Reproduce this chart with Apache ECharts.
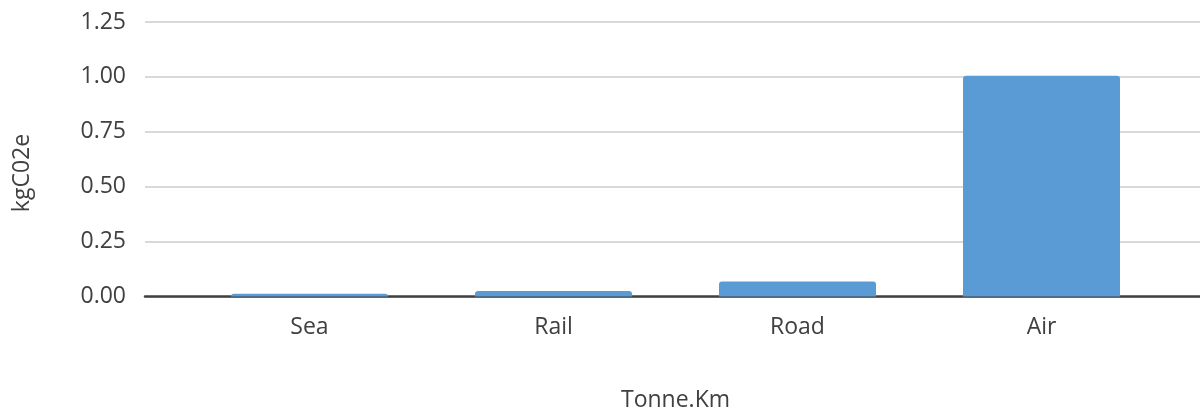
<!DOCTYPE html>
<html>
<head>
<meta charset="utf-8">
<script src="https://cdn.jsdelivr.net/npm/echarts@6/dist/echarts.min.js"></script>
<style>
  html, body { margin: 0; padding: 0; background: #fff; }
  #chart { width: 1200px; height: 411px; }
</style>
</head>
<body>
<div id="chart"></div>
<script>
const categories = ['Sea', 'Rail', 'Road', 'Air']
const emissions = [0.013, 0.025, 0.068, 1.005]
const yMin = 0
const yMax = 1.25
const yStep = 0.25

const chart = echarts.init(document.getElementById('chart'))
const font = 'Open Sans'
const fs = 23

const option = {
  backgroundColor: '#fff',
  animation: false,
  textStyle: { fontFamily: font },
  grid: [
    // full width frame: gridlines + axis line
    { left: 145, right: 0, top: 22, bottom: 114.5, outerBoundsMode: 'none', containLabel: false },
    // category band for the bars
    { left: 187.5, right: 36.5, top: 22, bottom: 114.5, outerBoundsMode: 'none', containLabel: false }
  ],
  xAxis: [
    {
      gridIndex: 0,
      type: 'value',
      min: 0,
      max: 1,
      axisLine: { show: true, onZero: false, lineStyle: { color: '#404040', width: 2.5 } },
      axisTick: { show: false },
      axisLabel: { show: false },
      splitLine: { show: false }
    },
    {
      gridIndex: 1,
      type: 'category',
      data: categories,
      axisLine: { show: false },
      axisTick: { show: false },
      axisLabel: { color: '#404040', fontSize: fs, margin: 19, fontFamily: font },
      name: 'Tonne.Km',
      nameLocation: 'middle',
      nameGap: 92,
      nameTextStyle: { color: '#404040', fontSize: fs, fontFamily: font }
    }
  ],
  yAxis: [
    {
      gridIndex: 0,
      type: 'value',
      min: yMin,
      max: yMax,
      interval: yStep,
      axisLine: { show: false },
      axisTick: { show: false },
      axisLabel: {
        color: '#404040',
        fontSize: fs,
        margin: 19,
        fontFamily: font,
        formatter: v => v.toFixed(2)
      },
      splitLine: { lineStyle: { color: '#d9d9d9', width: 2 } }
    },
    {
      gridIndex: 1,
      type: 'value',
      min: yMin,
      max: yMax,
      interval: yStep,
      axisLine: { show: false },
      axisTick: { show: false },
      axisLabel: { show: false },
      splitLine: { show: false }
    }
  ],
  graphic: [
    {
      type: 'text',
      x: 22,
      y: 173,
      rotation: Math.PI / 2,
      style: {
        text: 'kgC02e',
        fill: '#404040',
        font: fs + 'px "' + font + '"',
        align: 'center',
        verticalAlign: 'middle'
      }
    }
  ],
  series: [
    {
      type: 'bar',
      xAxisIndex: 1,
      yAxisIndex: 1,
      data: emissions,
      barWidth: 157,
      itemStyle: { color: '#5b9bd5', borderRadius: [3, 3, 0, 0] },
      z: 1
    }
  ]
}

chart.setOption(option)

window.addEventListener('resize', () => {
  if (chart) chart.resize()
})
</script>
</body>
</html>
